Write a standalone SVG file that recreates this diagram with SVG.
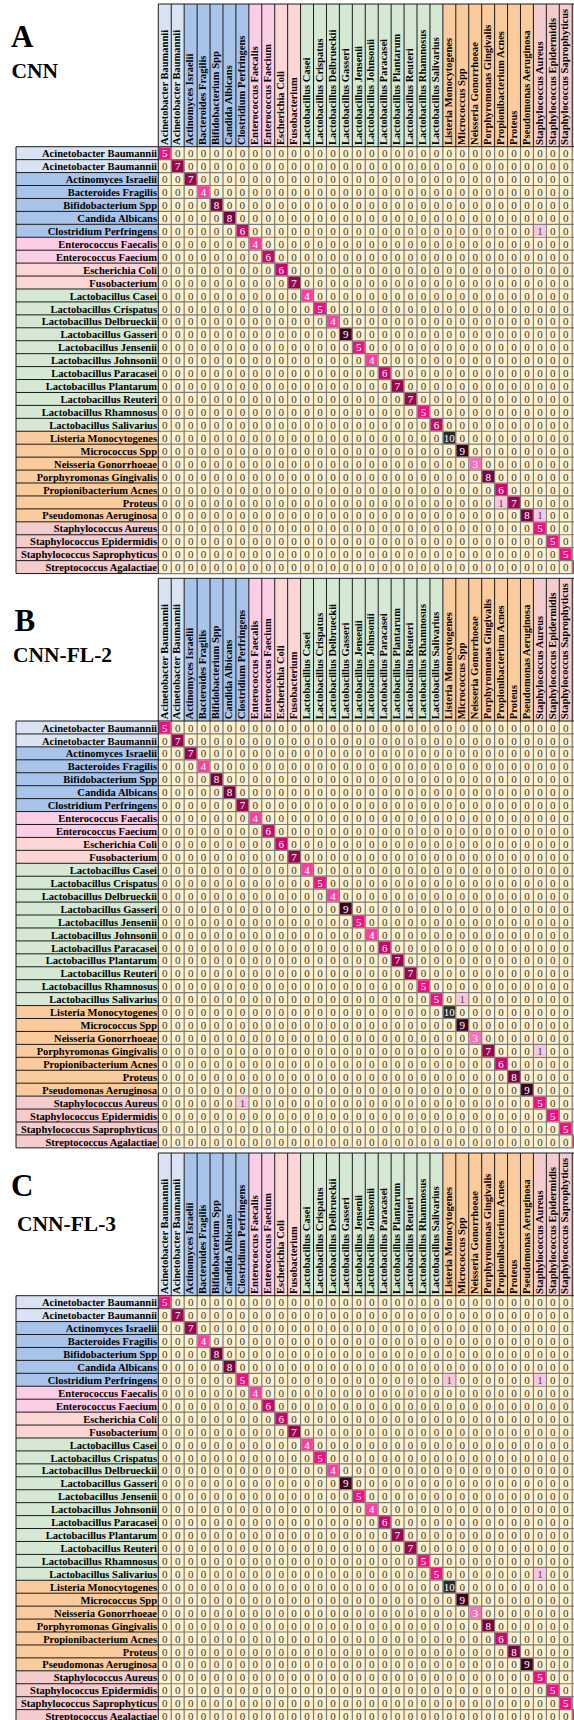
<svg xmlns="http://www.w3.org/2000/svg" xmlns:xlink="http://www.w3.org/1999/xlink" width="574" height="1720" viewBox="0 0 574 1720">
<style>
.ttl{font-family:"Liberation Serif","Times New Roman",serif;font-weight:bold;fill:#000}
.rl text{font:bold 10.5px "Liberation Serif","Times New Roman",serif;text-anchor:end;fill:#000}
.hl text{font:bold 10.5px "Liberation Serif","Times New Roman",serif;fill:#000}
.z text{font:11px "Liberation Serif","Times New Roman",serif;letter-spacing:7.435px;fill:#333}
.cv text{font:11px "Liberation Serif","Times New Roman",serif;text-anchor:middle;fill:#fff}
.cv text.d{fill:#4a4a4a}
.cv rect{width:11.74px;height:11.74px}
.grid{fill:none;stroke:#7b7b7b;stroke-width:1.2}
.edge{fill:none;stroke:#1a1a1a;stroke-width:1}
.g1{fill:#dae3f3}.g2{fill:#a9c4ea}.g3{fill:#fccde6}.g4{fill:#fcd5d5}.g5{fill:#d5e8d4}.g6{fill:#facb9c}.g7{fill:#f4cccd}
.h1{fill:#f9c6e2}.h3{fill:#f872b9}.h4{fill:#f5429f}.h5{fill:#ee1282}.h6{fill:#c7086c}.h7{fill:#9a0552}.h8{fill:#780343}.h9{fill:#3c0222}.h10{fill:#2b2b2b}
</style>
<defs>
<!-- shared frame of one confusion matrix: label column, header band, cell grid -->
<g id="frame">
<rect x="158.3" y="0" width="415.7" height="426.86" fill="#fff2cc"/>
<rect class="g1" x="16" y="0" width="142.3" height="25.87"/>
<rect class="g2" x="16" y="25.87" width="142.3" height="64.68"/>
<rect class="g3" x="16" y="90.55" width="142.3" height="25.87"/>
<rect class="g4" x="16" y="116.42" width="142.3" height="25.87"/>
<rect class="g5" x="16" y="142.29" width="142.3" height="142.28"/>
<rect class="g6" x="16" y="284.57" width="142.3" height="90.55"/>
<rect class="g7" x="16" y="375.12" width="142.3" height="51.74"/>
<rect class="g1" x="158.3" y="-142.7" width="25.87" height="142.7"/>
<rect class="g2" x="184.17" y="-142.7" width="64.68" height="142.7"/>
<rect class="g3" x="248.85" y="-142.7" width="25.87" height="142.7"/>
<rect class="g4" x="274.72" y="-142.7" width="25.87" height="142.7"/>
<rect class="g5" x="300.59" y="-142.7" width="142.28" height="142.7"/>
<rect class="g6" x="442.87" y="-142.7" width="90.55" height="142.7"/>
<rect class="g7" x="533.42" y="-142.7" width="40.58" height="142.7"/>
<path class="grid" d="M171.24 0V426.86M184.17 0V426.86M197.11 0V426.86M210.04 0V426.86M222.98 0V426.86M235.91 0V426.86M248.85 0V426.86M261.78 0V426.86M274.72 0V426.86M287.65 0V426.86M300.59 0V426.86M313.52 0V426.86M326.46 0V426.86M339.39 0V426.86M352.33 0V426.86M365.26 0V426.86M378.2 0V426.86M391.13 0V426.86M404.07 0V426.86M417 0V426.86M429.94 0V426.86M442.87 0V426.86M455.81 0V426.86M468.74 0V426.86M481.68 0V426.86M494.61 0V426.86M507.55 0V426.86M520.48 0V426.86M533.42 0V426.86M546.35 0V426.86M559.29 0V426.86M572.22 0V426.86M158.3 12.94h415.7M158.3 25.87h415.7M158.3 38.81h415.7M158.3 51.74h415.7M158.3 64.68h415.7M158.3 77.61h415.7M158.3 90.55h415.7M158.3 103.48h415.7M158.3 116.42h415.7M158.3 129.35h415.7M158.3 142.29h415.7M158.3 155.22h415.7M158.3 168.16h415.7M158.3 181.09h415.7M158.3 194.03h415.7M158.3 206.96h415.7M158.3 219.9h415.7M158.3 232.83h415.7M158.3 245.77h415.7M158.3 258.7h415.7M158.3 271.64h415.7M158.3 284.57h415.7M158.3 297.51h415.7M158.3 310.44h415.7M158.3 323.38h415.7M158.3 336.31h415.7M158.3 349.25h415.7M158.3 362.18h415.7M158.3 375.12h415.7M158.3 388.05h415.7M158.3 400.99h415.7M158.3 413.92h415.7M158.3 426.86h415.7"/>
<path class="edge" d="M16 0V426.86M158.3 0V426.86M16 0h142.3M16 12.94h142.3M16 25.87h142.3M16 38.81h142.3M16 51.74h142.3M16 64.68h142.3M16 77.61h142.3M16 90.55h142.3M16 103.48h142.3M16 116.42h142.3M16 129.35h142.3M16 142.29h142.3M16 155.22h142.3M16 168.16h142.3M16 181.09h142.3M16 194.03h142.3M16 206.96h142.3M16 219.9h142.3M16 232.83h142.3M16 245.77h142.3M16 258.7h142.3M16 271.64h142.3M16 284.57h142.3M16 297.51h142.3M16 310.44h142.3M16 323.38h142.3M16 336.31h142.3M16 349.25h142.3M16 362.18h142.3M16 375.12h142.3M16 388.05h142.3M16 400.99h142.3M16 413.92h142.3M16 426.86h142.3M158.3 -142.7h415.7M158.3 0h415.7M158.3 -142.7V0M171.24 -142.7V0M184.17 -142.7V0M197.11 -142.7V0M210.04 -142.7V0M222.98 -142.7V0M235.91 -142.7V0M248.85 -142.7V0M261.78 -142.7V0M274.72 -142.7V0M287.65 -142.7V0M300.59 -142.7V0M313.52 -142.7V0M326.46 -142.7V0M339.39 -142.7V0M352.33 -142.7V0M365.26 -142.7V0M378.2 -142.7V0M391.13 -142.7V0M404.07 -142.7V0M417 -142.7V0M429.94 -142.7V0M442.87 -142.7V0M455.81 -142.7V0M468.74 -142.7V0M481.68 -142.7V0M494.61 -142.7V0M507.55 -142.7V0M520.48 -142.7V0M533.42 -142.7V0M546.35 -142.7V0M559.29 -142.7V0M572.22 -142.7V0"/>
</g>
</defs>

<!-- panel titles -->
<g id="title-a" class="ttl"><text x="11" y="46.5" font-size="31">A</text><text x="11.5" y="78.3" font-size="21.5">CNN</text></g>
<g id="title-b" class="ttl"><text x="14.5" y="630.5" font-size="31">B</text><text x="13" y="661.5" font-size="21.5">CNN-FL-2</text></g>
<g id="title-c" class="ttl"><text x="11" y="1195.5" font-size="31">C</text><text x="17" y="1230.5" font-size="21.5">CNN-FL-3</text></g>

<!-- ===== Panel A: CNN ===== -->
<g id="panel-a" transform="translate(0 146.7)">
<use href="#frame"/>
<g class="rl">
<text x="157" y="10.6">Acinetobacter Baumannii</text>
<text x="157" y="23.54">Acinetobacter Baumannii</text>
<text x="157" y="36.47">Actinomyces Israelii</text>
<text x="157" y="49.41">Bacteroides Fragilis</text>
<text x="157" y="62.34">Bifidobacterium Spp</text>
<text x="157" y="75.28">Candida Albicans</text>
<text x="157" y="88.21">Clostridium Perfringens</text>
<text x="157" y="101.15">Enterococcus Faecalis</text>
<text x="157" y="114.08">Enterococcus Faecium</text>
<text x="157" y="127.02">Escherichia Coli</text>
<text x="157" y="139.95">Fusobacterium</text>
<text x="157" y="152.89">Lactobacillus Casei</text>
<text x="157" y="165.82">Lactobacillus Crispatus</text>
<text x="157" y="178.76">Lactobacillus Delbrueckii</text>
<text x="157" y="191.69">Lactobacillus Gasseri</text>
<text x="157" y="204.63">Lactobacillus Jensenii</text>
<text x="157" y="217.56">Lactobacillus Johnsonii</text>
<text x="157" y="230.5">Lactobacillus Paracasei</text>
<text x="157" y="243.43">Lactobacillus Plantarum</text>
<text x="157" y="256.37">Lactobacillus Reuteri</text>
<text x="157" y="269.3">Lactobacillus Rhamnosus</text>
<text x="157" y="282.24">Lactobacillus Salivarius</text>
<text x="157" y="295.17">Listeria Monocytogenes</text>
<text x="157" y="308.11">Micrococcus Spp</text>
<text x="157" y="321.04">Neisseria Gonorrhoeae</text>
<text x="157" y="333.98">Porphyromonas Gingivalis</text>
<text x="157" y="346.91">Propionibacterium Acnes</text>
<text x="157" y="359.85">Proteus</text>
<text x="157" y="372.78">Pseudomonas Aeruginosa</text>
<text x="157" y="385.72">Staphylococcus Aureus</text>
<text x="157" y="398.65">Staphylococcus Epidermidis</text>
<text x="157" y="411.59">Staphylococcus Saprophyticus</text>
<text x="157" y="424.52">Streptococcus Agalactiae</text>
</g>
<g class="hl" transform="rotate(-90)">
<text x="1.8" y="167.5">Acinetobacter Baumannii</text>
<text x="1.8" y="180.44">Acinetobacter Baumannii</text>
<text x="1.8" y="193.37">Actinomyces Israelii</text>
<text x="1.8" y="206.31">Bacteroides Fragilis</text>
<text x="1.8" y="219.24">Bifidobacterium Spp</text>
<text x="1.8" y="232.18">Candida Albicans</text>
<text x="1.8" y="245.11">Clostridium Perfringens</text>
<text x="1.8" y="258.05">Enterococcus Faecalis</text>
<text x="1.8" y="270.98">Enterococcus Faecium</text>
<text x="1.8" y="283.92">Escherichia Coli</text>
<text x="1.8" y="296.85">Fusobacterium</text>
<text x="1.8" y="309.79">Lactobacillus Casei</text>
<text x="1.8" y="322.72">Lactobacillus Crispatus</text>
<text x="1.8" y="335.66">Lactobacillus Delbrueckii</text>
<text x="1.8" y="348.59">Lactobacillus Gasseri</text>
<text x="1.8" y="361.53">Lactobacillus Jensenii</text>
<text x="1.8" y="374.46">Lactobacillus Johnsonii</text>
<text x="1.8" y="387.4">Lactobacillus Paracasei</text>
<text x="1.8" y="400.33">Lactobacillus Plantarum</text>
<text x="1.8" y="413.27">Lactobacillus Reuteri</text>
<text x="1.8" y="426.2">Lactobacillus Rhamnosus</text>
<text x="1.8" y="439.14">Lactobacillus Salivarius</text>
<text x="1.8" y="452.07">Listeria Monocytogenes</text>
<text x="1.8" y="465.01">Micrococcus Spp</text>
<text x="1.8" y="477.94">Neisseria Gonorrhoeae</text>
<text x="1.8" y="490.88">Porphyromonas Gingivalis</text>
<text x="1.8" y="503.81">Propionibacterium Acnes</text>
<text x="1.8" y="516.75">Proteus</text>
<text x="1.8" y="529.68">Pseudomonas Aeruginosa</text>
<text x="1.8" y="542.62">Staphylococcus Aureus</text>
<text x="1.8" y="555.55">Staphylococcus Epidermidis</text>
<text x="1.8" y="568.49">Staphylococcus Saprophyticus</text>
</g>
<g class="z">
<text y="10.6"><tspan x="174.96">0000000</tspan><tspan x="265.5">00000000</tspan><tspan x="368.98">00000000</tspan><tspan x="472.46">00000000</tspan></text>
<text y="23.54"><tspan x="162.02">0</tspan><tspan x="187.89">000000</tspan><tspan x="265.5">00000000</tspan><tspan x="368.98">00000000</tspan><tspan x="472.46">00000000</tspan></text>
<text y="36.47"><tspan x="162.02">00</tspan><tspan x="200.83">00000</tspan><tspan x="265.5">00000000</tspan><tspan x="368.98">00000000</tspan><tspan x="472.46">00000000</tspan></text>
<text y="49.41"><tspan x="162.02">000</tspan><tspan x="213.76">0000</tspan><tspan x="265.5">00000000</tspan><tspan x="368.98">00000000</tspan><tspan x="472.46">00000000</tspan></text>
<text y="62.34"><tspan x="162.02">0000</tspan><tspan x="226.7">000</tspan><tspan x="265.5">00000000</tspan><tspan x="368.98">00000000</tspan><tspan x="472.46">00000000</tspan></text>
<text y="75.28"><tspan x="162.02">00000</tspan><tspan x="239.63">00</tspan><tspan x="265.5">00000000</tspan><tspan x="368.98">00000000</tspan><tspan x="472.46">00000000</tspan></text>
<text y="88.21"><tspan x="162.02">000000</tspan><tspan x="252.57">0</tspan><tspan x="265.5">00000000</tspan><tspan x="368.98">00000000</tspan><tspan x="472.46">00000</tspan><tspan x="550.07">00</tspan></text>
<text y="101.15"><tspan x="162.02">0000000</tspan><tspan x="265.5">00000000</tspan><tspan x="368.98">00000000</tspan><tspan x="472.46">00000000</tspan></text>
<text y="114.08"><tspan x="162.02">00000000</tspan><tspan x="278.44">0000000</tspan><tspan x="368.98">00000000</tspan><tspan x="472.46">00000000</tspan></text>
<text y="127.02"><tspan x="162.02">00000000</tspan><tspan x="265.5">0</tspan><tspan x="291.37">000000</tspan><tspan x="368.98">00000000</tspan><tspan x="472.46">00000000</tspan></text>
<text y="139.95"><tspan x="162.02">00000000</tspan><tspan x="265.5">00</tspan><tspan x="304.31">00000</tspan><tspan x="368.98">00000000</tspan><tspan x="472.46">00000000</tspan></text>
<text y="152.89"><tspan x="162.02">00000000</tspan><tspan x="265.5">000</tspan><tspan x="317.24">0000</tspan><tspan x="368.98">00000000</tspan><tspan x="472.46">00000000</tspan></text>
<text y="165.82"><tspan x="162.02">00000000</tspan><tspan x="265.5">0000</tspan><tspan x="330.18">000</tspan><tspan x="368.98">00000000</tspan><tspan x="472.46">00000000</tspan></text>
<text y="178.76"><tspan x="162.02">00000000</tspan><tspan x="265.5">00000</tspan><tspan x="343.11">00</tspan><tspan x="368.98">00000000</tspan><tspan x="472.46">00000000</tspan></text>
<text y="191.69"><tspan x="162.02">00000000</tspan><tspan x="265.5">000000</tspan><tspan x="356.05">0</tspan><tspan x="368.98">00000000</tspan><tspan x="472.46">00000000</tspan></text>
<text y="204.63"><tspan x="162.02">00000000</tspan><tspan x="265.5">0000000</tspan><tspan x="368.98">00000000</tspan><tspan x="472.46">00000000</tspan></text>
<text y="217.56"><tspan x="162.02">00000000</tspan><tspan x="265.5">00000000</tspan><tspan x="381.92">0000000</tspan><tspan x="472.46">00000000</tspan></text>
<text y="230.5"><tspan x="162.02">00000000</tspan><tspan x="265.5">00000000</tspan><tspan x="368.98">0</tspan><tspan x="394.85">000000</tspan><tspan x="472.46">00000000</tspan></text>
<text y="243.43"><tspan x="162.02">00000000</tspan><tspan x="265.5">00000000</tspan><tspan x="368.98">00</tspan><tspan x="407.79">00000</tspan><tspan x="472.46">00000000</tspan></text>
<text y="256.37"><tspan x="162.02">00000000</tspan><tspan x="265.5">00000000</tspan><tspan x="368.98">000</tspan><tspan x="420.72">0000</tspan><tspan x="472.46">00000000</tspan></text>
<text y="269.3"><tspan x="162.02">00000000</tspan><tspan x="265.5">00000000</tspan><tspan x="368.98">0000</tspan><tspan x="433.66">000</tspan><tspan x="472.46">00000000</tspan></text>
<text y="282.24"><tspan x="162.02">00000000</tspan><tspan x="265.5">00000000</tspan><tspan x="368.98">00000</tspan><tspan x="446.59">00</tspan><tspan x="472.46">00000000</tspan></text>
<text y="295.17"><tspan x="162.02">00000000</tspan><tspan x="265.5">00000000</tspan><tspan x="368.98">000000</tspan><tspan x="459.53">0</tspan><tspan x="472.46">00000000</tspan></text>
<text y="308.11"><tspan x="162.02">00000000</tspan><tspan x="265.5">00000000</tspan><tspan x="368.98">0000000</tspan><tspan x="472.46">00000000</tspan></text>
<text y="321.04"><tspan x="162.02">00000000</tspan><tspan x="265.5">00000000</tspan><tspan x="368.98">00000000</tspan><tspan x="485.4">0000000</tspan></text>
<text y="333.98"><tspan x="162.02">00000000</tspan><tspan x="265.5">00000000</tspan><tspan x="368.98">00000000</tspan><tspan x="472.46">0</tspan><tspan x="498.33">000000</tspan></text>
<text y="346.91"><tspan x="162.02">00000000</tspan><tspan x="265.5">00000000</tspan><tspan x="368.98">00000000</tspan><tspan x="472.46">00</tspan><tspan x="511.27">00000</tspan></text>
<text y="359.85"><tspan x="162.02">00000000</tspan><tspan x="265.5">00000000</tspan><tspan x="368.98">00000000</tspan><tspan x="472.46">00</tspan><tspan x="524.2">0000</tspan></text>
<text y="372.78"><tspan x="162.02">00000000</tspan><tspan x="265.5">00000000</tspan><tspan x="368.98">00000000</tspan><tspan x="472.46">0000</tspan><tspan x="550.07">00</tspan></text>
<text y="385.72"><tspan x="162.02">00000000</tspan><tspan x="265.5">00000000</tspan><tspan x="368.98">00000000</tspan><tspan x="472.46">00000</tspan><tspan x="550.07">00</tspan></text>
<text y="398.65"><tspan x="162.02">00000000</tspan><tspan x="265.5">00000000</tspan><tspan x="368.98">00000000</tspan><tspan x="472.46">000000</tspan><tspan x="563.01">0</tspan></text>
<text y="411.59"><tspan x="162.02">00000000</tspan><tspan x="265.5">00000000</tspan><tspan x="368.98">00000000</tspan><tspan x="472.46">0000000</tspan></text>
<text y="424.52"><tspan x="162.02">00000000</tspan><tspan x="265.5">00000000</tspan><tspan x="368.98">00000000</tspan><tspan x="472.46">00000000</tspan></text>
</g>
<g class="cv">
<rect class="h5" x="158.9" y="0.6"/><text x="164.77" y="10.6">5</text>
<rect class="h7" x="171.84" y="13.54"/><text x="177.7" y="23.54">7</text>
<rect class="h7" x="184.77" y="26.47"/><text x="190.64" y="36.47">7</text>
<rect class="h4" x="197.71" y="39.41"/><text x="203.57" y="49.41">4</text>
<rect class="h8" x="210.64" y="52.34"/><text x="216.51" y="62.34">8</text>
<rect class="h8" x="223.58" y="65.28"/><text x="229.44" y="75.28">8</text>
<rect class="h6" x="236.51" y="78.21"/><text x="242.38" y="88.21">6</text>
<rect class="h1" x="534.02" y="78.21"/><text class="d" x="539.88" y="88.21">1</text>
<rect class="h4" x="249.45" y="91.15"/><text x="255.31" y="101.15">4</text>
<rect class="h6" x="262.38" y="104.08"/><text x="268.25" y="114.08">6</text>
<rect class="h6" x="275.32" y="117.02"/><text x="281.18" y="127.02">6</text>
<rect class="h7" x="288.25" y="129.95"/><text x="294.12" y="139.95">7</text>
<rect class="h4" x="301.19" y="142.89"/><text x="307.05" y="152.89">4</text>
<rect class="h5" x="314.12" y="155.82"/><text x="319.99" y="165.82">5</text>
<rect class="h4" x="327.06" y="168.76"/><text x="332.92" y="178.76">4</text>
<rect class="h9" x="339.99" y="181.69"/><text x="345.86" y="191.69">9</text>
<rect class="h5" x="352.93" y="194.63"/><text x="358.79" y="204.63">5</text>
<rect class="h4" x="365.86" y="207.56"/><text x="371.73" y="217.56">4</text>
<rect class="h6" x="378.8" y="220.5"/><text x="384.66" y="230.5">6</text>
<rect class="h7" x="391.73" y="233.43"/><text x="397.6" y="243.43">7</text>
<rect class="h7" x="404.67" y="246.37"/><text x="410.53" y="256.37">7</text>
<rect class="h5" x="417.6" y="259.3"/><text x="423.47" y="269.3">5</text>
<rect class="h6" x="430.54" y="272.24"/><text x="436.4" y="282.24">6</text>
<rect class="h10" x="443.47" y="285.17"/><text x="449.34" y="295.17">10</text>
<rect class="h9" x="456.41" y="298.11"/><text x="462.27" y="308.11">9</text>
<rect class="h3" x="469.34" y="311.04"/><text x="475.21" y="321.04">3</text>
<rect class="h8" x="482.28" y="323.98"/><text x="488.14" y="333.98">8</text>
<rect class="h6" x="495.21" y="336.91"/><text x="501.08" y="346.91">6</text>
<rect class="h1" x="495.21" y="349.85"/><text class="d" x="501.08" y="359.85">1</text>
<rect class="h7" x="508.15" y="349.85"/><text x="514.01" y="359.85">7</text>
<rect class="h8" x="521.08" y="362.78"/><text x="526.95" y="372.78">8</text>
<rect class="h1" x="534.02" y="362.78"/><text class="d" x="539.88" y="372.78">1</text>
<rect class="h5" x="534.02" y="375.72"/><text x="539.88" y="385.72">5</text>
<rect class="h5" x="546.95" y="388.65"/><text x="552.82" y="398.65">5</text>
<rect class="h5" x="559.89" y="401.59"/><text x="565.75" y="411.59">5</text>
<rect class="h5" x="572.82" y="414.52" style="width:1.18px"/>
</g>
</g>

<!-- ===== Panel B: CNN-FL-2 ===== -->
<g id="panel-b" transform="translate(0 721)">
<use href="#frame"/>
<g class="rl">
<text x="157" y="10.6">Acinetobacter Baumannii</text>
<text x="157" y="23.54">Acinetobacter Baumannii</text>
<text x="157" y="36.47">Actinomyces Israelii</text>
<text x="157" y="49.41">Bacteroides Fragilis</text>
<text x="157" y="62.34">Bifidobacterium Spp</text>
<text x="157" y="75.28">Candida Albicans</text>
<text x="157" y="88.21">Clostridium Perfringens</text>
<text x="157" y="101.15">Enterococcus Faecalis</text>
<text x="157" y="114.08">Enterococcus Faecium</text>
<text x="157" y="127.02">Escherichia Coli</text>
<text x="157" y="139.95">Fusobacterium</text>
<text x="157" y="152.89">Lactobacillus Casei</text>
<text x="157" y="165.82">Lactobacillus Crispatus</text>
<text x="157" y="178.76">Lactobacillus Delbrueckii</text>
<text x="157" y="191.69">Lactobacillus Gasseri</text>
<text x="157" y="204.63">Lactobacillus Jensenii</text>
<text x="157" y="217.56">Lactobacillus Johnsonii</text>
<text x="157" y="230.5">Lactobacillus Paracasei</text>
<text x="157" y="243.43">Lactobacillus Plantarum</text>
<text x="157" y="256.37">Lactobacillus Reuteri</text>
<text x="157" y="269.3">Lactobacillus Rhamnosus</text>
<text x="157" y="282.24">Lactobacillus Salivarius</text>
<text x="157" y="295.17">Listeria Monocytogenes</text>
<text x="157" y="308.11">Micrococcus Spp</text>
<text x="157" y="321.04">Neisseria Gonorrhoeae</text>
<text x="157" y="333.98">Porphyromonas Gingivalis</text>
<text x="157" y="346.91">Propionibacterium Acnes</text>
<text x="157" y="359.85">Proteus</text>
<text x="157" y="372.78">Pseudomonas Aeruginosa</text>
<text x="157" y="385.72">Staphylococcus Aureus</text>
<text x="157" y="398.65">Staphylococcus Epidermidis</text>
<text x="157" y="411.59">Staphylococcus Saprophyticus</text>
<text x="157" y="424.52">Streptococcus Agalactiae</text>
</g>
<g class="hl" transform="rotate(-90)">
<text x="1.8" y="167.5">Acinetobacter Baumannii</text>
<text x="1.8" y="180.44">Acinetobacter Baumannii</text>
<text x="1.8" y="193.37">Actinomyces Israelii</text>
<text x="1.8" y="206.31">Bacteroides Fragilis</text>
<text x="1.8" y="219.24">Bifidobacterium Spp</text>
<text x="1.8" y="232.18">Candida Albicans</text>
<text x="1.8" y="245.11">Clostridium Perfringens</text>
<text x="1.8" y="258.05">Enterococcus Faecalis</text>
<text x="1.8" y="270.98">Enterococcus Faecium</text>
<text x="1.8" y="283.92">Escherichia Coli</text>
<text x="1.8" y="296.85">Fusobacterium</text>
<text x="1.8" y="309.79">Lactobacillus Casei</text>
<text x="1.8" y="322.72">Lactobacillus Crispatus</text>
<text x="1.8" y="335.66">Lactobacillus Delbrueckii</text>
<text x="1.8" y="348.59">Lactobacillus Gasseri</text>
<text x="1.8" y="361.53">Lactobacillus Jensenii</text>
<text x="1.8" y="374.46">Lactobacillus Johnsonii</text>
<text x="1.8" y="387.4">Lactobacillus Paracasei</text>
<text x="1.8" y="400.33">Lactobacillus Plantarum</text>
<text x="1.8" y="413.27">Lactobacillus Reuteri</text>
<text x="1.8" y="426.2">Lactobacillus Rhamnosus</text>
<text x="1.8" y="439.14">Lactobacillus Salivarius</text>
<text x="1.8" y="452.07">Listeria Monocytogenes</text>
<text x="1.8" y="465.01">Micrococcus Spp</text>
<text x="1.8" y="477.94">Neisseria Gonorrhoeae</text>
<text x="1.8" y="490.88">Porphyromonas Gingivalis</text>
<text x="1.8" y="503.81">Propionibacterium Acnes</text>
<text x="1.8" y="516.75">Proteus</text>
<text x="1.8" y="529.68">Pseudomonas Aeruginosa</text>
<text x="1.8" y="542.62">Staphylococcus Aureus</text>
<text x="1.8" y="555.55">Staphylococcus Epidermidis</text>
<text x="1.8" y="568.49">Staphylococcus Saprophyticus</text>
</g>
<g class="z">
<text y="10.6"><tspan x="174.96">0000000</tspan><tspan x="265.5">00000000</tspan><tspan x="368.98">00000000</tspan><tspan x="472.46">00000000</tspan></text>
<text y="23.54"><tspan x="162.02">0</tspan><tspan x="187.89">000000</tspan><tspan x="265.5">00000000</tspan><tspan x="368.98">00000000</tspan><tspan x="472.46">00000000</tspan></text>
<text y="36.47"><tspan x="162.02">00</tspan><tspan x="200.83">00000</tspan><tspan x="265.5">00000000</tspan><tspan x="368.98">00000000</tspan><tspan x="472.46">00000000</tspan></text>
<text y="49.41"><tspan x="162.02">000</tspan><tspan x="213.76">0000</tspan><tspan x="265.5">00000000</tspan><tspan x="368.98">00000000</tspan><tspan x="472.46">00000000</tspan></text>
<text y="62.34"><tspan x="162.02">0000</tspan><tspan x="226.7">000</tspan><tspan x="265.5">00000000</tspan><tspan x="368.98">00000000</tspan><tspan x="472.46">00000000</tspan></text>
<text y="75.28"><tspan x="162.02">00000</tspan><tspan x="239.63">00</tspan><tspan x="265.5">00000000</tspan><tspan x="368.98">00000000</tspan><tspan x="472.46">00000000</tspan></text>
<text y="88.21"><tspan x="162.02">000000</tspan><tspan x="252.57">0</tspan><tspan x="265.5">00000000</tspan><tspan x="368.98">00000000</tspan><tspan x="472.46">00000000</tspan></text>
<text y="101.15"><tspan x="162.02">0000000</tspan><tspan x="265.5">00000000</tspan><tspan x="368.98">00000000</tspan><tspan x="472.46">00000000</tspan></text>
<text y="114.08"><tspan x="162.02">00000000</tspan><tspan x="278.44">0000000</tspan><tspan x="368.98">00000000</tspan><tspan x="472.46">00000000</tspan></text>
<text y="127.02"><tspan x="162.02">00000000</tspan><tspan x="265.5">0</tspan><tspan x="291.37">000000</tspan><tspan x="368.98">00000000</tspan><tspan x="472.46">00000000</tspan></text>
<text y="139.95"><tspan x="162.02">00000000</tspan><tspan x="265.5">00</tspan><tspan x="304.31">00000</tspan><tspan x="368.98">00000000</tspan><tspan x="472.46">00000000</tspan></text>
<text y="152.89"><tspan x="162.02">00000000</tspan><tspan x="265.5">000</tspan><tspan x="317.24">0000</tspan><tspan x="368.98">00000000</tspan><tspan x="472.46">00000000</tspan></text>
<text y="165.82"><tspan x="162.02">00000000</tspan><tspan x="265.5">0000</tspan><tspan x="330.18">000</tspan><tspan x="368.98">00000000</tspan><tspan x="472.46">00000000</tspan></text>
<text y="178.76"><tspan x="162.02">00000000</tspan><tspan x="265.5">00000</tspan><tspan x="343.11">00</tspan><tspan x="368.98">00000000</tspan><tspan x="472.46">00000000</tspan></text>
<text y="191.69"><tspan x="162.02">00000000</tspan><tspan x="265.5">000000</tspan><tspan x="356.05">0</tspan><tspan x="368.98">00000000</tspan><tspan x="472.46">00000000</tspan></text>
<text y="204.63"><tspan x="162.02">00000000</tspan><tspan x="265.5">0000000</tspan><tspan x="368.98">00000000</tspan><tspan x="472.46">00000000</tspan></text>
<text y="217.56"><tspan x="162.02">00000000</tspan><tspan x="265.5">00000000</tspan><tspan x="381.92">0000000</tspan><tspan x="472.46">00000000</tspan></text>
<text y="230.5"><tspan x="162.02">00000000</tspan><tspan x="265.5">00000000</tspan><tspan x="368.98">0</tspan><tspan x="394.85">000000</tspan><tspan x="472.46">00000000</tspan></text>
<text y="243.43"><tspan x="162.02">00000000</tspan><tspan x="265.5">00000000</tspan><tspan x="368.98">00</tspan><tspan x="407.79">00000</tspan><tspan x="472.46">00000000</tspan></text>
<text y="256.37"><tspan x="162.02">00000000</tspan><tspan x="265.5">00000000</tspan><tspan x="368.98">000</tspan><tspan x="420.72">0000</tspan><tspan x="472.46">00000000</tspan></text>
<text y="269.3"><tspan x="162.02">00000000</tspan><tspan x="265.5">00000000</tspan><tspan x="368.98">0000</tspan><tspan x="433.66">000</tspan><tspan x="472.46">00000000</tspan></text>
<text y="282.24"><tspan x="162.02">00000000</tspan><tspan x="265.5">00000000</tspan><tspan x="368.98">00000</tspan><tspan x="446.59">0</tspan><tspan x="472.46">00000000</tspan></text>
<text y="295.17"><tspan x="162.02">00000000</tspan><tspan x="265.5">00000000</tspan><tspan x="368.98">000000</tspan><tspan x="459.53">0</tspan><tspan x="472.46">00000000</tspan></text>
<text y="308.11"><tspan x="162.02">00000000</tspan><tspan x="265.5">00000000</tspan><tspan x="368.98">0000000</tspan><tspan x="472.46">00000000</tspan></text>
<text y="321.04"><tspan x="162.02">00000000</tspan><tspan x="265.5">00000000</tspan><tspan x="368.98">00000000</tspan><tspan x="485.4">0000000</tspan></text>
<text y="333.98"><tspan x="162.02">00000000</tspan><tspan x="265.5">00000000</tspan><tspan x="368.98">00000000</tspan><tspan x="472.46">0</tspan><tspan x="498.33">000</tspan><tspan x="550.07">00</tspan></text>
<text y="346.91"><tspan x="162.02">00000000</tspan><tspan x="265.5">00000000</tspan><tspan x="368.98">00000000</tspan><tspan x="472.46">00</tspan><tspan x="511.27">00000</tspan></text>
<text y="359.85"><tspan x="162.02">00000000</tspan><tspan x="265.5">00000000</tspan><tspan x="368.98">00000000</tspan><tspan x="472.46">000</tspan><tspan x="524.2">0000</tspan></text>
<text y="372.78"><tspan x="162.02">00000000</tspan><tspan x="265.5">00000000</tspan><tspan x="368.98">00000000</tspan><tspan x="472.46">0000</tspan><tspan x="537.14">000</tspan></text>
<text y="385.72"><tspan x="162.02">000000</tspan><tspan x="252.57">0</tspan><tspan x="265.5">00000000</tspan><tspan x="368.98">00000000</tspan><tspan x="472.46">00000</tspan><tspan x="550.07">00</tspan></text>
<text y="398.65"><tspan x="162.02">00000000</tspan><tspan x="265.5">00000000</tspan><tspan x="368.98">00000000</tspan><tspan x="472.46">000000</tspan><tspan x="563.01">0</tspan></text>
<text y="411.59"><tspan x="162.02">00000000</tspan><tspan x="265.5">00000000</tspan><tspan x="368.98">00000000</tspan><tspan x="472.46">0000000</tspan></text>
<text y="424.52"><tspan x="162.02">00000000</tspan><tspan x="265.5">00000000</tspan><tspan x="368.98">00000000</tspan><tspan x="472.46">00000000</tspan></text>
</g>
<g class="cv">
<rect class="h5" x="158.9" y="0.6"/><text x="164.77" y="10.6">5</text>
<rect class="h7" x="171.84" y="13.54"/><text x="177.7" y="23.54">7</text>
<rect class="h7" x="184.77" y="26.47"/><text x="190.64" y="36.47">7</text>
<rect class="h4" x="197.71" y="39.41"/><text x="203.57" y="49.41">4</text>
<rect class="h8" x="210.64" y="52.34"/><text x="216.51" y="62.34">8</text>
<rect class="h8" x="223.58" y="65.28"/><text x="229.44" y="75.28">8</text>
<rect class="h7" x="236.51" y="78.21"/><text x="242.38" y="88.21">7</text>
<rect class="h4" x="249.45" y="91.15"/><text x="255.31" y="101.15">4</text>
<rect class="h6" x="262.38" y="104.08"/><text x="268.25" y="114.08">6</text>
<rect class="h6" x="275.32" y="117.02"/><text x="281.18" y="127.02">6</text>
<rect class="h7" x="288.25" y="129.95"/><text x="294.12" y="139.95">7</text>
<rect class="h4" x="301.19" y="142.89"/><text x="307.05" y="152.89">4</text>
<rect class="h5" x="314.12" y="155.82"/><text x="319.99" y="165.82">5</text>
<rect class="h4" x="327.06" y="168.76"/><text x="332.92" y="178.76">4</text>
<rect class="h9" x="339.99" y="181.69"/><text x="345.86" y="191.69">9</text>
<rect class="h5" x="352.93" y="194.63"/><text x="358.79" y="204.63">5</text>
<rect class="h4" x="365.86" y="207.56"/><text x="371.73" y="217.56">4</text>
<rect class="h6" x="378.8" y="220.5"/><text x="384.66" y="230.5">6</text>
<rect class="h7" x="391.73" y="233.43"/><text x="397.6" y="243.43">7</text>
<rect class="h7" x="404.67" y="246.37"/><text x="410.53" y="256.37">7</text>
<rect class="h5" x="417.6" y="259.3"/><text x="423.47" y="269.3">5</text>
<rect class="h5" x="430.54" y="272.24"/><text x="436.4" y="282.24">5</text>
<rect class="h1" x="456.41" y="272.24"/><text class="d" x="462.27" y="282.24">1</text>
<rect class="h10" x="443.47" y="285.17"/><text x="449.34" y="295.17">10</text>
<rect class="h9" x="456.41" y="298.11"/><text x="462.27" y="308.11">9</text>
<rect class="h3" x="469.34" y="311.04"/><text x="475.21" y="321.04">3</text>
<rect class="h7" x="482.28" y="323.98"/><text x="488.14" y="333.98">7</text>
<rect class="h1" x="534.02" y="323.98"/><text class="d" x="539.88" y="333.98">1</text>
<rect class="h6" x="495.21" y="336.91"/><text x="501.08" y="346.91">6</text>
<rect class="h8" x="508.15" y="349.85"/><text x="514.01" y="359.85">8</text>
<rect class="h9" x="521.08" y="362.78"/><text x="526.95" y="372.78">9</text>
<rect class="h1" x="236.51" y="375.72"/><text class="d" x="242.38" y="385.72">1</text>
<rect class="h5" x="534.02" y="375.72"/><text x="539.88" y="385.72">5</text>
<rect class="h5" x="546.95" y="388.65"/><text x="552.82" y="398.65">5</text>
<rect class="h5" x="559.89" y="401.59"/><text x="565.75" y="411.59">5</text>
<rect class="h5" x="572.82" y="414.52" style="width:1.18px"/>
</g>
</g>

<!-- ===== Panel C: CNN-FL-3 ===== -->
<g id="panel-c" transform="translate(0 1295.7)">
<use href="#frame"/>
<g class="rl">
<text x="157" y="10.6">Acinetobacter Baumannii</text>
<text x="157" y="23.54">Acinetobacter Baumannii</text>
<text x="157" y="36.47">Actinomyces Israelii</text>
<text x="157" y="49.41">Bacteroides Fragilis</text>
<text x="157" y="62.34">Bifidobacterium Spp</text>
<text x="157" y="75.28">Candida Albicans</text>
<text x="157" y="88.21">Clostridium Perfringens</text>
<text x="157" y="101.15">Enterococcus Faecalis</text>
<text x="157" y="114.08">Enterococcus Faecium</text>
<text x="157" y="127.02">Escherichia Coli</text>
<text x="157" y="139.95">Fusobacterium</text>
<text x="157" y="152.89">Lactobacillus Casei</text>
<text x="157" y="165.82">Lactobacillus Crispatus</text>
<text x="157" y="178.76">Lactobacillus Delbrueckii</text>
<text x="157" y="191.69">Lactobacillus Gasseri</text>
<text x="157" y="204.63">Lactobacillus Jensenii</text>
<text x="157" y="217.56">Lactobacillus Johnsonii</text>
<text x="157" y="230.5">Lactobacillus Paracasei</text>
<text x="157" y="243.43">Lactobacillus Plantarum</text>
<text x="157" y="256.37">Lactobacillus Reuteri</text>
<text x="157" y="269.3">Lactobacillus Rhamnosus</text>
<text x="157" y="282.24">Lactobacillus Salivarius</text>
<text x="157" y="295.17">Listeria Monocytogenes</text>
<text x="157" y="308.11">Micrococcus Spp</text>
<text x="157" y="321.04">Neisseria Gonorrhoeae</text>
<text x="157" y="333.98">Porphyromonas Gingivalis</text>
<text x="157" y="346.91">Propionibacterium Acnes</text>
<text x="157" y="359.85">Proteus</text>
<text x="157" y="372.78">Pseudomonas Aeruginosa</text>
<text x="157" y="385.72">Staphylococcus Aureus</text>
<text x="157" y="398.65">Staphylococcus Epidermidis</text>
<text x="157" y="411.59">Staphylococcus Saprophyticus</text>
<text x="157" y="424.52">Streptococcus Agalactiae</text>
</g>
<g class="hl" transform="rotate(-90)">
<text x="1.8" y="167.5">Acinetobacter Baumannii</text>
<text x="1.8" y="180.44">Acinetobacter Baumannii</text>
<text x="1.8" y="193.37">Actinomyces Israelii</text>
<text x="1.8" y="206.31">Bacteroides Fragilis</text>
<text x="1.8" y="219.24">Bifidobacterium Spp</text>
<text x="1.8" y="232.18">Candida Albicans</text>
<text x="1.8" y="245.11">Clostridium Perfringens</text>
<text x="1.8" y="258.05">Enterococcus Faecalis</text>
<text x="1.8" y="270.98">Enterococcus Faecium</text>
<text x="1.8" y="283.92">Escherichia Coli</text>
<text x="1.8" y="296.85">Fusobacterium</text>
<text x="1.8" y="309.79">Lactobacillus Casei</text>
<text x="1.8" y="322.72">Lactobacillus Crispatus</text>
<text x="1.8" y="335.66">Lactobacillus Delbrueckii</text>
<text x="1.8" y="348.59">Lactobacillus Gasseri</text>
<text x="1.8" y="361.53">Lactobacillus Jensenii</text>
<text x="1.8" y="374.46">Lactobacillus Johnsonii</text>
<text x="1.8" y="387.4">Lactobacillus Paracasei</text>
<text x="1.8" y="400.33">Lactobacillus Plantarum</text>
<text x="1.8" y="413.27">Lactobacillus Reuteri</text>
<text x="1.8" y="426.2">Lactobacillus Rhamnosus</text>
<text x="1.8" y="439.14">Lactobacillus Salivarius</text>
<text x="1.8" y="452.07">Listeria Monocytogenes</text>
<text x="1.8" y="465.01">Micrococcus Spp</text>
<text x="1.8" y="477.94">Neisseria Gonorrhoeae</text>
<text x="1.8" y="490.88">Porphyromonas Gingivalis</text>
<text x="1.8" y="503.81">Propionibacterium Acnes</text>
<text x="1.8" y="516.75">Proteus</text>
<text x="1.8" y="529.68">Pseudomonas Aeruginosa</text>
<text x="1.8" y="542.62">Staphylococcus Aureus</text>
<text x="1.8" y="555.55">Staphylococcus Epidermidis</text>
<text x="1.8" y="568.49">Staphylococcus Saprophyticus</text>
</g>
<g class="z">
<text y="10.6"><tspan x="174.96">0000000</tspan><tspan x="265.5">00000000</tspan><tspan x="368.98">00000000</tspan><tspan x="472.46">00000000</tspan></text>
<text y="23.54"><tspan x="162.02">0</tspan><tspan x="187.89">000000</tspan><tspan x="265.5">00000000</tspan><tspan x="368.98">00000000</tspan><tspan x="472.46">00000000</tspan></text>
<text y="36.47"><tspan x="162.02">00</tspan><tspan x="200.83">00000</tspan><tspan x="265.5">00000000</tspan><tspan x="368.98">00000000</tspan><tspan x="472.46">00000000</tspan></text>
<text y="49.41"><tspan x="162.02">000</tspan><tspan x="213.76">0000</tspan><tspan x="265.5">00000000</tspan><tspan x="368.98">00000000</tspan><tspan x="472.46">00000000</tspan></text>
<text y="62.34"><tspan x="162.02">0000</tspan><tspan x="226.7">000</tspan><tspan x="265.5">00000000</tspan><tspan x="368.98">00000000</tspan><tspan x="472.46">00000000</tspan></text>
<text y="75.28"><tspan x="162.02">00000</tspan><tspan x="239.63">00</tspan><tspan x="265.5">00000000</tspan><tspan x="368.98">00000000</tspan><tspan x="472.46">00000000</tspan></text>
<text y="88.21"><tspan x="162.02">000000</tspan><tspan x="252.57">0</tspan><tspan x="265.5">00000000</tspan><tspan x="368.98">000000</tspan><tspan x="459.53">0</tspan><tspan x="472.46">00000</tspan><tspan x="550.07">00</tspan></text>
<text y="101.15"><tspan x="162.02">0000000</tspan><tspan x="265.5">00000000</tspan><tspan x="368.98">00000000</tspan><tspan x="472.46">00000000</tspan></text>
<text y="114.08"><tspan x="162.02">00000000</tspan><tspan x="278.44">0000000</tspan><tspan x="368.98">00000000</tspan><tspan x="472.46">00000000</tspan></text>
<text y="127.02"><tspan x="162.02">00000000</tspan><tspan x="265.5">0</tspan><tspan x="291.37">000000</tspan><tspan x="368.98">00000000</tspan><tspan x="472.46">00000000</tspan></text>
<text y="139.95"><tspan x="162.02">00000000</tspan><tspan x="265.5">00</tspan><tspan x="304.31">00000</tspan><tspan x="368.98">00000000</tspan><tspan x="472.46">00000000</tspan></text>
<text y="152.89"><tspan x="162.02">00000000</tspan><tspan x="265.5">000</tspan><tspan x="317.24">0000</tspan><tspan x="368.98">00000000</tspan><tspan x="472.46">00000000</tspan></text>
<text y="165.82"><tspan x="162.02">00000000</tspan><tspan x="265.5">0000</tspan><tspan x="330.18">000</tspan><tspan x="368.98">00000000</tspan><tspan x="472.46">00000000</tspan></text>
<text y="178.76"><tspan x="162.02">00000000</tspan><tspan x="265.5">00000</tspan><tspan x="343.11">00</tspan><tspan x="368.98">00000000</tspan><tspan x="472.46">00000000</tspan></text>
<text y="191.69"><tspan x="162.02">00000000</tspan><tspan x="265.5">000000</tspan><tspan x="356.05">0</tspan><tspan x="368.98">00000000</tspan><tspan x="472.46">00000000</tspan></text>
<text y="204.63"><tspan x="162.02">00000000</tspan><tspan x="265.5">0000000</tspan><tspan x="368.98">00000000</tspan><tspan x="472.46">00000000</tspan></text>
<text y="217.56"><tspan x="162.02">00000000</tspan><tspan x="265.5">00000000</tspan><tspan x="381.92">0000000</tspan><tspan x="472.46">00000000</tspan></text>
<text y="230.5"><tspan x="162.02">00000000</tspan><tspan x="265.5">00000000</tspan><tspan x="368.98">0</tspan><tspan x="394.85">000000</tspan><tspan x="472.46">00000000</tspan></text>
<text y="243.43"><tspan x="162.02">00000000</tspan><tspan x="265.5">00000000</tspan><tspan x="368.98">00</tspan><tspan x="407.79">00000</tspan><tspan x="472.46">00000000</tspan></text>
<text y="256.37"><tspan x="162.02">00000000</tspan><tspan x="265.5">00000000</tspan><tspan x="368.98">000</tspan><tspan x="420.72">0000</tspan><tspan x="472.46">00000000</tspan></text>
<text y="269.3"><tspan x="162.02">00000000</tspan><tspan x="265.5">00000000</tspan><tspan x="368.98">0000</tspan><tspan x="433.66">000</tspan><tspan x="472.46">00000000</tspan></text>
<text y="282.24"><tspan x="162.02">00000000</tspan><tspan x="265.5">00000000</tspan><tspan x="368.98">00000</tspan><tspan x="446.59">00</tspan><tspan x="472.46">00000</tspan><tspan x="550.07">00</tspan></text>
<text y="295.17"><tspan x="162.02">00000000</tspan><tspan x="265.5">00000000</tspan><tspan x="368.98">000000</tspan><tspan x="459.53">0</tspan><tspan x="472.46">00000000</tspan></text>
<text y="308.11"><tspan x="162.02">00000000</tspan><tspan x="265.5">00000000</tspan><tspan x="368.98">0000000</tspan><tspan x="472.46">00000000</tspan></text>
<text y="321.04"><tspan x="162.02">00000000</tspan><tspan x="265.5">00000000</tspan><tspan x="368.98">00000000</tspan><tspan x="485.4">0000000</tspan></text>
<text y="333.98"><tspan x="162.02">00000000</tspan><tspan x="265.5">00000000</tspan><tspan x="368.98">00000000</tspan><tspan x="472.46">0</tspan><tspan x="498.33">000000</tspan></text>
<text y="346.91"><tspan x="162.02">00000000</tspan><tspan x="265.5">00000000</tspan><tspan x="368.98">00000000</tspan><tspan x="472.46">00</tspan><tspan x="511.27">00000</tspan></text>
<text y="359.85"><tspan x="162.02">00000000</tspan><tspan x="265.5">00000000</tspan><tspan x="368.98">00000000</tspan><tspan x="472.46">000</tspan><tspan x="524.2">0000</tspan></text>
<text y="372.78"><tspan x="162.02">00000000</tspan><tspan x="265.5">00000000</tspan><tspan x="368.98">00000000</tspan><tspan x="472.46">0000</tspan><tspan x="537.14">000</tspan></text>
<text y="385.72"><tspan x="162.02">00000000</tspan><tspan x="265.5">00000000</tspan><tspan x="368.98">00000000</tspan><tspan x="472.46">00000</tspan><tspan x="550.07">00</tspan></text>
<text y="398.65"><tspan x="162.02">00000000</tspan><tspan x="265.5">00000000</tspan><tspan x="368.98">00000000</tspan><tspan x="472.46">000000</tspan><tspan x="563.01">0</tspan></text>
<text y="411.59"><tspan x="162.02">00000000</tspan><tspan x="265.5">00000000</tspan><tspan x="368.98">00000000</tspan><tspan x="472.46">0000000</tspan></text>
<text y="424.52"><tspan x="162.02">00000000</tspan><tspan x="265.5">00000000</tspan><tspan x="368.98">00000000</tspan><tspan x="472.46">00000000</tspan></text>
</g>
<g class="cv">
<rect class="h5" x="158.9" y="0.6"/><text x="164.77" y="10.6">5</text>
<rect class="h7" x="171.84" y="13.54"/><text x="177.7" y="23.54">7</text>
<rect class="h7" x="184.77" y="26.47"/><text x="190.64" y="36.47">7</text>
<rect class="h4" x="197.71" y="39.41"/><text x="203.57" y="49.41">4</text>
<rect class="h8" x="210.64" y="52.34"/><text x="216.51" y="62.34">8</text>
<rect class="h8" x="223.58" y="65.28"/><text x="229.44" y="75.28">8</text>
<rect class="h5" x="236.51" y="78.21"/><text x="242.38" y="88.21">5</text>
<rect class="h1" x="443.47" y="78.21"/><text class="d" x="449.34" y="88.21">1</text>
<rect class="h1" x="534.02" y="78.21"/><text class="d" x="539.88" y="88.21">1</text>
<rect class="h4" x="249.45" y="91.15"/><text x="255.31" y="101.15">4</text>
<rect class="h6" x="262.38" y="104.08"/><text x="268.25" y="114.08">6</text>
<rect class="h6" x="275.32" y="117.02"/><text x="281.18" y="127.02">6</text>
<rect class="h7" x="288.25" y="129.95"/><text x="294.12" y="139.95">7</text>
<rect class="h4" x="301.19" y="142.89"/><text x="307.05" y="152.89">4</text>
<rect class="h5" x="314.12" y="155.82"/><text x="319.99" y="165.82">5</text>
<rect class="h4" x="327.06" y="168.76"/><text x="332.92" y="178.76">4</text>
<rect class="h9" x="339.99" y="181.69"/><text x="345.86" y="191.69">9</text>
<rect class="h5" x="352.93" y="194.63"/><text x="358.79" y="204.63">5</text>
<rect class="h4" x="365.86" y="207.56"/><text x="371.73" y="217.56">4</text>
<rect class="h6" x="378.8" y="220.5"/><text x="384.66" y="230.5">6</text>
<rect class="h7" x="391.73" y="233.43"/><text x="397.6" y="243.43">7</text>
<rect class="h7" x="404.67" y="246.37"/><text x="410.53" y="256.37">7</text>
<rect class="h5" x="417.6" y="259.3"/><text x="423.47" y="269.3">5</text>
<rect class="h5" x="430.54" y="272.24"/><text x="436.4" y="282.24">5</text>
<rect class="h1" x="534.02" y="272.24"/><text class="d" x="539.88" y="282.24">1</text>
<rect class="h10" x="443.47" y="285.17"/><text x="449.34" y="295.17">10</text>
<rect class="h9" x="456.41" y="298.11"/><text x="462.27" y="308.11">9</text>
<rect class="h3" x="469.34" y="311.04"/><text x="475.21" y="321.04">3</text>
<rect class="h8" x="482.28" y="323.98"/><text x="488.14" y="333.98">8</text>
<rect class="h6" x="495.21" y="336.91"/><text x="501.08" y="346.91">6</text>
<rect class="h8" x="508.15" y="349.85"/><text x="514.01" y="359.85">8</text>
<rect class="h9" x="521.08" y="362.78"/><text x="526.95" y="372.78">9</text>
<rect class="h5" x="534.02" y="375.72"/><text x="539.88" y="385.72">5</text>
<rect class="h5" x="546.95" y="388.65"/><text x="552.82" y="398.65">5</text>
<rect class="h5" x="559.89" y="401.59"/><text x="565.75" y="411.59">5</text>
<rect class="h5" x="572.82" y="414.52" style="width:1.18px"/>
</g>
</g>
</svg>
